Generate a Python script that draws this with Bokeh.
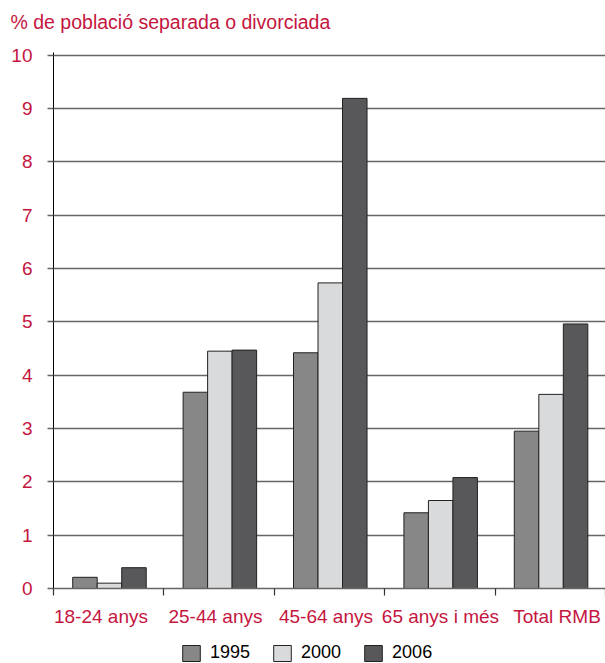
import numpy as np
from bokeh.plotting import figure
from bokeh.layouts import column
from bokeh.models import ColumnDataSource, FixedTicker, Range1d, Legend, LegendItem
from bokeh.embed import file_html
from bokeh.resources import INLINE

categories = ["18-24 anys", "25-44 anys", "45-64 anys", "65 anys i més", "Total RMB"]
years = ["1995", "2000", "2006"]
v1995 = [0.21, 3.68, 4.42, 1.42, 2.95]
v2000 = [0.10, 4.45, 5.73, 1.65, 3.64]
v2006 = [0.39, 4.47, 9.19, 2.08, 4.96]
y_ticks = list(range(0, 11))
title_text = "% de població separada o divorciada"

colors = ["#878787", "#d9dadb", "#58585a"]
RED = "#c4163f"
FONT = "Liberation Sans"

idx = np.arange(len(categories))
centers = idx + 0.507
offsets = [-0.222, 0.0, 0.222]
bw = 0.222
# where the category labels sit (category units)
label_pos = [0.430, 1.467, 2.468, 3.505, 4.561]

# ---- title strip ----
tf = figure(width=605, height=45, output_backend="svg", toolbar_location=None,
            x_range=Range1d(0, 1), y_range=Range1d(0, 1),
            x_axis_type=None, y_axis_type=None,
            min_border_left=0, min_border_right=0, min_border_top=0, min_border_bottom=0)
tf.outline_line_color = None
tf.xgrid.grid_line_color = None
tf.ygrid.grid_line_color = None
tf.title.text = title_text
tf.title.text_color = RED
tf.title.text_font = FONT
tf.title.text_font_size = "19.5px"
tf.title.text_font_style = "normal"
tf.title.align = "left"
tf.title.vertical_align = "top"
tf.title.offset = -43
tf.title.standoff = 20

# ---- main chart ----
p = figure(frame_width=552, frame_height=536, output_backend="svg", toolbar_location=None,
           title=None,
           x_range=Range1d(0, 5), y_range=Range1d(0, 10.05),
           min_border_left=53, min_border_right=0, min_border_top=7,
           min_border_bottom=44)
p.outline_line_color = None
p.background_fill_color = "white"
p.border_fill_color = "white"

for vals, off, col in zip([v1995, v2000, v2006], offsets, colors):
    src = ColumnDataSource(dict(x=centers + off, top=vals))
    p.vbar(x="x", top="top", bottom=0, width=bw, source=src,
           fill_color=col, line_color="#222222", line_width=1)

# grid
p.xgrid.grid_line_color = None
p.ygrid.grid_line_color = "#666666"
p.ygrid.grid_line_width = 1.6
p.ygrid.ticker = FixedTicker(ticks=y_ticks)

# y axis
p.yaxis.ticker = FixedTicker(ticks=y_ticks)
p.yaxis.axis_line_color = "black"
p.yaxis.axis_line_width = 1
p.yaxis.major_tick_line_color = "#666666"
p.yaxis.major_tick_line_width = 1.6
p.yaxis.major_tick_out = 6
p.yaxis.major_tick_in = 0
p.yaxis.minor_tick_line_color = None
p.yaxis.major_label_text_color = RED
p.yaxis.major_label_text_font = FONT
p.yaxis.major_label_text_font_size = "19px"
p.yaxis.major_label_standoff = 15

# x axis: labels near centres, tick marks at category boundaries
p.xaxis.ticker = FixedTicker(ticks=label_pos, minor_ticks=list(range(0, 6)))
p.xaxis.major_label_overrides = {float(lp): c for lp, c in zip(label_pos, categories)}
p.xaxis.major_tick_line_color = None
p.xaxis.minor_tick_line_color = "#333333"
p.xaxis.minor_tick_line_width = 1.2
p.xaxis.minor_tick_out = 7
p.xaxis.minor_tick_in = 0
p.xaxis.axis_line_color = "#666666"
p.xaxis.axis_line_width = 1.6
p.xaxis.major_label_text_color = RED
p.xaxis.major_label_text_font = FONT
p.xaxis.major_label_text_font_size = "19px"
p.xaxis.major_label_standoff = 10

# ---- legend strip below the chart ----
lg = figure(width=605, height=31, output_backend="svg", toolbar_location=None,
            x_range=Range1d(0, 1), y_range=Range1d(0, 1),
            x_axis_type=None, y_axis_type=None,
            min_border_left=0, min_border_right=0, min_border_top=0, min_border_bottom=0)
lg.outline_line_color = None
lg.xgrid.grid_line_color = None
lg.ygrid.grid_line_color = None
lg_renderers = []
for col in colors:
    # one bar outside the visible range, only to key the legend glyph
    r = lg.vbar(x=[5.0], top=[0.0], bottom=0, width=0.1, fill_color=col,
                line_color="#222222", line_width=1)
    lg_renderers.append(r)

legend = Legend(items=[LegendItem(label=y, renderers=[r]) for y, r in zip(years, lg_renderers)],
                orientation="horizontal", location=(127, 0))
legend.label_text_font = FONT
legend.label_text_font_size = "18px"
legend.label_text_color = "black"
legend.glyph_width = 22
legend.glyph_height = 20
legend.label_height = 20
legend.label_standoff = 8
legend.spacing = 21
legend.padding = 0
legend.margin = 0
legend.border_line_color = None
legend.background_fill_alpha = 0
lg.add_layout(legend, "center")

layout = column(tf, p, lg, spacing=0)
open("out.html", "w").write(file_html(layout, INLINE))
